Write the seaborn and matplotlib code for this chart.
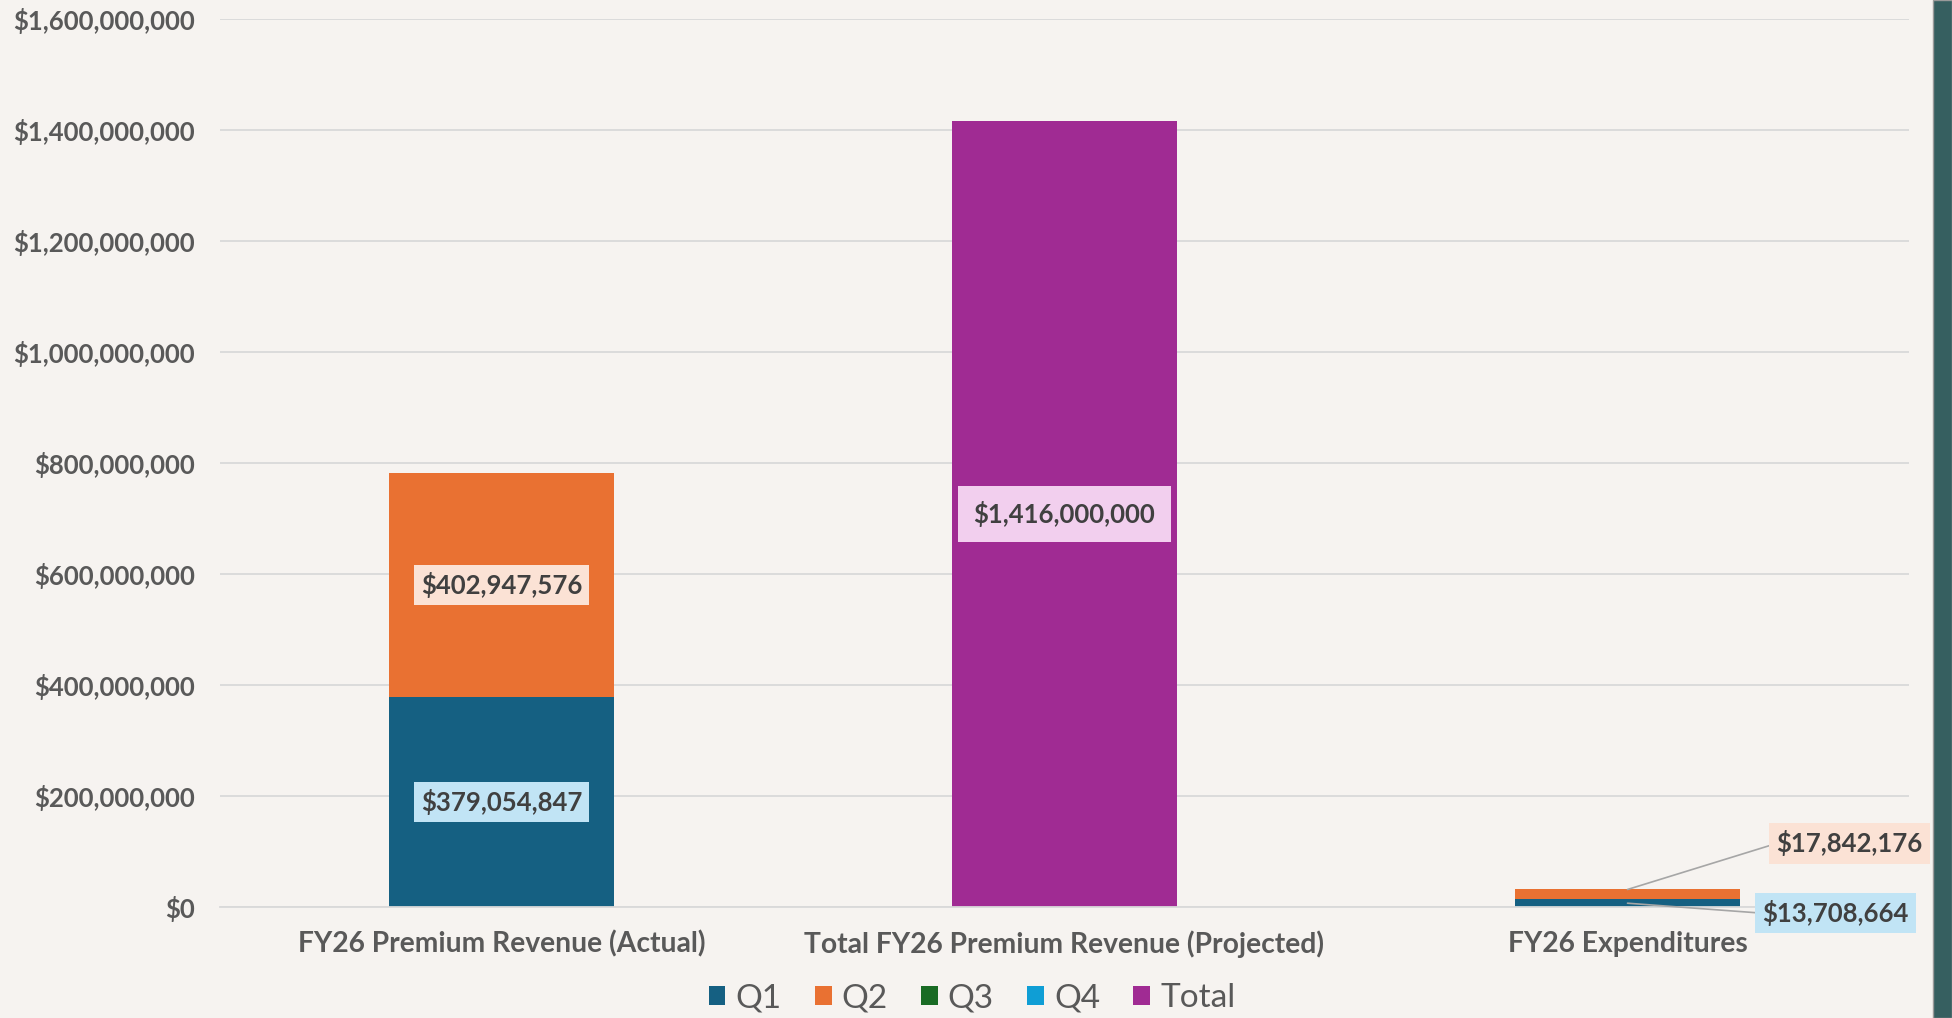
import numpy as np
import pandas as pd
import matplotlib
matplotlib.use("Agg")
import matplotlib.pyplot as plt
from matplotlib.patches import Patch, Rectangle
from matplotlib.ticker import FuncFormatter
import seaborn as sns

categories = ["FY26 Premium Revenue (Actual)",
              "Total FY26 Premium Revenue (Projected)",
              "FY26 Expenditures"]
series = ["Q1", "Q2", "Q3", "Q4", "Total"]
q1 = [379054847, 0, 13708664]
q2 = [402947576, 0, 17842176]
q3 = [0, 0, 0]
q4 = [0, 0, 0]
total = [0, 1416000000, 0]

colors = {"Q1": "#156082", "Q2": "#E97132", "Q3": "#196B24",
          "Q4": "#0F9ED5", "Total": "#A02B93"}
label_bg = {"Q1": "#C1E4F5", "Q2": "#FBE2D5", "Total": "#F2CFEE"}

BG = "#F6F3F0"
TXT = "#595959"
LBL = "#404040"

df = pd.DataFrame({"Q1": q1, "Q2": q2, "Q3": q3, "Q4": q4, "Total": total},
                  index=categories)
cum = df.cumsum(axis=1)

sns.set_theme(style="white")
plt.rcParams["font.family"] = ["Lato", "DejaVu Sans"]

fig = plt.figure(figsize=(19.52, 10.18), dpi=100, facecolor=BG)
ax = fig.add_axes([220 / 1952, 1 - 907 / 1018, (1909 - 220) / 1952, (907 - 19) / 1018])
ax.set_facecolor(BG)

# stacked bars: draw cumulative heights from the top layer down
for s in reversed(series):
    sns.barplot(x=categories, y=cum[s].values, color=colors[s], width=0.4,
                ax=ax, linewidth=0, saturation=1)

ax.set_ylim(0, 1.6e9)
ax.set_yticks(np.arange(0, 1.6e9 + 1, 2e8))
ax.yaxis.set_major_formatter(FuncFormatter(lambda v, p: f"${v:,.0f}"))
ax.grid(axis="y", color="#D9D9D9", linewidth=1.3)
ax.set_axisbelow(True)
for sp in ["top", "right", "left"]:
    ax.spines[sp].set_visible(False)
ax.spines["bottom"].set_color("#D9D9D9")
ax.spines["bottom"].set_linewidth(1.3)
ax.tick_params(axis="y", length=0, pad=18, labelsize=18.5, labelcolor=TXT)
ax.tick_params(axis="x", length=0, pad=17, labelsize=20.3, labelcolor=TXT)
for t in ax.get_yticklabels() + ax.get_xticklabels():
    t.set_fontweight("bold")
ax.set_xlim(-0.5, 2.5)

# centred data labels
def box(s, pad=0.3):
    return dict(boxstyle=f"square,pad={pad}", fc=label_bg[s], ec="none")

for i in range(2):
    for s in ["Q1", "Q2", "Total"]:
        v = df[s].iloc[i]
        if v <= 0:
            continue
        mid = cum[s].iloc[i] - v / 2
        ax.text(i, mid, f"${v:,.0f}", ha="center", va="center", fontsize=18.5,
                fontweight="bold", color=LBL,
                bbox=box(s, 0.6 if s == "Total" else 0.28))

# leader-line labels for the small expenditure bar
i = 2
ax.annotate(f"${df['Q2'].iloc[i]:,.0f}", xy=(i, cum["Q2"].iloc[i]),
            xytext=(222, 46), textcoords="offset pixels", ha="center", va="center",
            fontsize=18.5, fontweight="bold", color=LBL, bbox=box("Q2", 0.28),
            arrowprops=dict(arrowstyle="-", color="#A6A6A6", lw=1.2,
                            shrinkA=0, shrinkB=0, relpos=(0, 0.5)))
ax.annotate(f"${df['Q1'].iloc[i]:,.0f}", xy=(i, df["Q1"].iloc[i] / 2),
            xytext=(208, -10), textcoords="offset pixels", ha="center", va="center",
            fontsize=18.5, fontweight="bold", color=LBL, bbox=box("Q1", 0.28),
            arrowprops=dict(arrowstyle="-", color="#A6A6A6", lw=1.2,
                            shrinkA=0, shrinkB=0, relpos=(0, 0.5)))

handles = [Patch(facecolor=colors[s], edgecolor="none", label=s) for s in series]
leg = fig.legend(handles=handles, loc="center", bbox_to_anchor=(972 / 1952, 1 - 998 / 1018),
                 ncol=5, frameon=False, fontsize=24, handlelength=0.5, handleheight=0.5,
                 handletextpad=0.3, columnspacing=1.0, labelcolor=TXT)

# dark side strip
fig.patches.append(Rectangle((1933 / 1952, 0), 1 - 1933 / 1952, 1, transform=fig.transFigure,
                             facecolor="#365F60", edgecolor="#9A9A9A", linewidth=1))

fig.savefig("out.png", dpi=100, facecolor=BG)
